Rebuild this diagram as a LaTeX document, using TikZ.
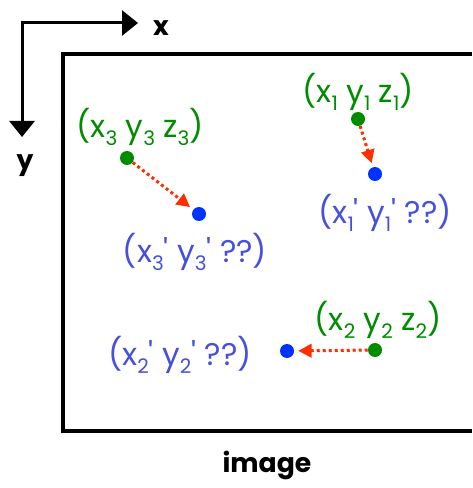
\documentclass[tikz,border=0pt]{standalone}
\usepackage{fontspec}
\setmainfont{Poppins}
\usetikzlibrary{arrows.meta}
\definecolor{ptgreen}{RGB}{0,140,0}
\definecolor{lblblue}{RGB}{70,80,220}
\definecolor{dotblue}{RGB}{0,50,255}
\definecolor{arrred}{RGB}{255,45,0}
\newcommand\lsub[1]{\raisebox{-0.45ex}{\fontsize{15}{15}\selectfont #1}}
\newcommand\prm{\textquotesingle}
\begin{document}
\begin{tikzpicture}[x=0.75pt,y=-0.75pt,
  gdot/.style={circle,fill=ptgreen,inner sep=0pt,minimum size=10.5pt},
  bdot/.style={circle,fill=dotblue,inner sep=0pt,minimum size=10.5pt},
  glabel/.style={text=ptgreen,font=\fontsize{23.5}{26}\selectfont,inner sep=0pt},
  blabel/.style={text=lblblue,font=\fontsize{23.5}{26}\selectfont,inner sep=0pt},
  axlabel/.style={font=\bfseries\fontsize{20}{23}\selectfont,inner sep=0pt},
  move/.style={draw=arrred,line width=2.25pt,dash pattern=on 2.25pt off 2.25pt,
    -{Triangle[length=10pt,width=10pt]},shorten >=3pt},
  axis/.style={line width=2.25pt,{Triangle[length=12pt,width=18.75pt]}-{Triangle[length=12pt,width=18.75pt]}},
  frame/.style={line width=3pt}
]
\useasboundingbox (0,0) rectangle (472,488);
% image frame (cut off at right)
\coordinate (ftr) at (472,54);
\coordinate (ftl) at (63,54);
\coordinate (fbl) at (63,431);
\coordinate (fbr) at (472,431);
\draw[frame] (ftr) -- (ftl) -- (fbl) -- (fbr);
% axes
\coordinate (o) at (22,23);
\coordinate (xe) at (138,23);
\coordinate (ye) at (22,137);
\draw[axis] (xe) -- (o) -- (ye);
\node[axlabel] (xl) at (161,28) {x};
\node[axlabel] (yl) at (25,166) {y};
\node[axlabel] (img) at (267,465) {image};
% points
\node[gdot] (g1) at (358,119) {};
\node[bdot] (b1) at (375,174) {};
\node[gdot] (g3) at (127,158) {};
\node[bdot] (b3) at (199,214) {};
\node[gdot] (g2) at (375,350) {};
\node[bdot] (b2) at (287,351) {};
\draw[move] (g1) -- (b1);
\draw[move] (g3) -- (b3);
\draw[move] (g2) -- (b2);
% labels
\node[glabel] (l1) at (358,92) {(x\lsub{1} y\lsub{1} z\lsub{1})};
\node[blabel] (m1) at (385,213) {(x\lsub{1}\prm{} y\lsub{1}\prm{} ??)};
\node[glabel] (l3) at (140,127) {(x\lsub{3} y\lsub{3} z\lsub{3})};
\node[blabel] (m3) at (195,252) {(x\lsub{3}\prm{} y\lsub{3}\prm{} ??)};
\node[glabel] (l2) at (378,320) {(x\lsub{2} y\lsub{2} z\lsub{2})};
\node[blabel] (m2) at (180,355) {(x\lsub{2}\prm{} y\lsub{2}\prm{} ??)};
\end{tikzpicture}
\end{document}
